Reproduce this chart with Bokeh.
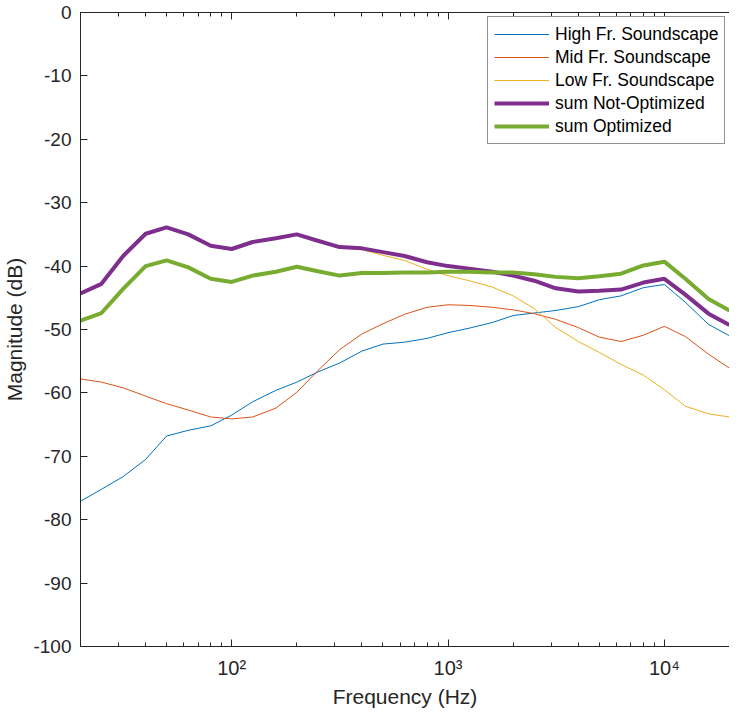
from bokeh.plotting import figure
from bokeh.models import FixedTicker, LogAxis, Legend, LegendItem
from bokeh.embed import file_html
from bokeh.resources import INLINE

freq = [20, 25, 31.5, 40, 50, 63, 80, 100, 125, 160, 200, 250, 315, 400, 500, 630,
        800, 1000, 1250, 1600, 2000, 2500, 3150, 4000, 5000, 6300, 8000, 10000,
        12500, 16000, 20000]

high_fr = [-77.1, -75.2, -73.2, -70.5, -66.8, -65.9, -65.2, -63.5, -61.4, -59.6, -58.3,
           -56.7, -55.3, -53.4, -52.3, -52.0, -51.4, -50.5, -49.8, -48.9, -47.8, -47.4,
           -47.0, -46.4, -45.3, -44.7, -43.4, -42.9, -45.7, -49.2, -51.0]

mid_fr = [-57.8, -58.3, -59.2, -60.5, -61.7, -62.7, -63.8, -64.1, -63.8, -62.4, -59.9,
          -56.5, -53.2, -50.7, -49.1, -47.6, -46.5, -46.1, -46.2, -46.5, -46.9, -47.5,
          -48.4, -49.7, -51.2, -51.9, -50.9, -49.5, -51.1, -53.9, -56.1]

low_fr = [-44.4, -42.9, -38.5, -35.0, -34.0, -35.1, -36.9, -37.4, -36.3, -35.7, -35.1,
          -36.1, -37.1, -37.4, -38.3, -39.1, -40.5, -41.5, -42.3, -43.3, -44.7, -46.7,
          -49.7, -51.9, -53.6, -55.5, -57.2, -59.5, -62.1, -63.3, -63.8]

sum_not_opt = [-44.3, -42.8, -38.4, -34.9, -33.9, -35.0, -36.8, -37.3, -36.2, -35.6, -35.0,
               -36.0, -37.0, -37.2, -37.8, -38.4, -39.4, -40.0, -40.4, -40.9, -41.5, -42.3,
               -43.5, -44.0, -43.9, -43.7, -42.6, -42.0, -44.5, -47.5, -49.3]

sum_opt = [-48.6, -47.4, -43.6, -40.0, -39.1, -40.2, -42.0, -42.5, -41.5, -40.9, -40.1,
           -40.8, -41.5, -41.1, -41.1, -41.0, -41.0, -40.9, -40.9, -41.0, -41.0, -41.3,
           -41.7, -41.9, -41.6, -41.2, -39.9, -39.3, -42.0, -45.2, -47.0]

series_names = ["High Fr. Soundscape", "Mid Fr. Soundscape", "Low Fr. Soundscape",
                "sum Not-Optimized", "sum Optimized"]

x_major = [100, 1000, 10000]
x_major_labels = ["10\u00b2", "10\u00b3", "10\u2074"]
x_minor = [20, 30, 40, 50, 60, 70, 80, 90, 200, 300, 400, 500, 600, 700, 800, 900,
           2000, 3000, 4000, 5000, 6000, 7000, 8000, 9000, 20000]
y_ticks = [-100, -90, -80, -70, -60, -50, -40, -30, -20, -10, 0]
y_tick_labels = ["-100", "-90", "-80", "-70", "-60", "-50", "-40", "-30", "-20", "-10", "0"]

FONT = "Liberation Sans"
TXT = "#262626"

p = figure(width=729, height=710, x_axis_type="log", x_range=(20, 20000),
           y_range=(-100, 0), output_backend="svg", toolbar_location=None,
           min_border_left=80, min_border_right=0, min_border_top=12,
           min_border_bottom=62)
p.outline_line_color = None
p.xgrid.visible = False
p.ygrid.visible = False
p.background_fill_color = "white"

styles = [("#0072BD", 1), ("#D95319", 1), ("#EDB120", 1), ("#7E2F8E", 4), ("#77AC30", 4)]
data = [high_fr, mid_fr, low_fr, sum_not_opt, sum_opt]
renderers = []
for (c, w), ys in zip(styles, data):
    r = p.line(freq, ys, line_color=c, line_width=w)
    renderers.append(r)

xa = p.xaxis[0]
xa.ticker = FixedTicker(ticks=x_major, minor_ticks=x_minor)
xa.major_label_overrides = {k: v for k, v in zip(x_major, x_major_labels)}
xa.axis_label = "Frequency (Hz)"

ya = p.yaxis[0]
ya.ticker = FixedTicker(ticks=y_ticks)
ya.major_label_overrides = {k: v for k, v in zip(y_ticks, y_tick_labels)}
ya.axis_label = "Magnitude (dB)"

for ax in (xa, ya):
    ax.axis_line_color = TXT
    ax.major_tick_line_color = TXT
    ax.major_tick_in = 7
    ax.major_tick_out = 0
    ax.minor_tick_in = 4
    ax.minor_tick_out = 0
    ax.major_label_text_font = FONT
    ax.major_label_text_color = TXT
    ax.axis_label_text_font = FONT
    ax.axis_label_text_font_style = "normal"
    ax.axis_label_text_font_size = "21px"
    ax.axis_label_text_color = TXT

xa.minor_tick_line_color = TXT
ya.minor_tick_line_color = None
xa.major_label_text_font_size = "20px"
xa.major_label_standoff = 10
xa.axis_label_standoff = 3
ya.major_label_text_font_size = "19px"
ya.major_label_standoff = 9
ya.axis_label_standoff = 4

top = LogAxis(ticker=FixedTicker(ticks=x_major, minor_ticks=x_minor),
              major_label_text_font_size="1px", major_label_text_alpha=0,
              major_label_standoff=0,
              axis_line_color=TXT, major_tick_line_color=TXT, minor_tick_line_color=TXT,
              major_tick_in=7, major_tick_out=0, minor_tick_in=4, minor_tick_out=0)
p.add_layout(top, "above")

items = [LegendItem(label=n, renderers=[r]) for n, r in zip(series_names, renderers)]
legend = Legend(items=items, location=(407, 502))
legend.label_text_font = FONT
legend.label_text_font_size = "17.5px"
legend.label_text_color = "black"
legend.glyph_width = 55
legend.glyph_height = 22
legend.label_height = 22
legend.label_standoff = 6
legend.spacing = 1
legend.padding = 6
legend.margin = 0
legend.border_line_color = TXT
legend.border_line_width = 1
legend.background_fill_alpha = 1.0
p.add_layout(legend, "center")

open("out.html", "w").write(file_html(p, INLINE))
